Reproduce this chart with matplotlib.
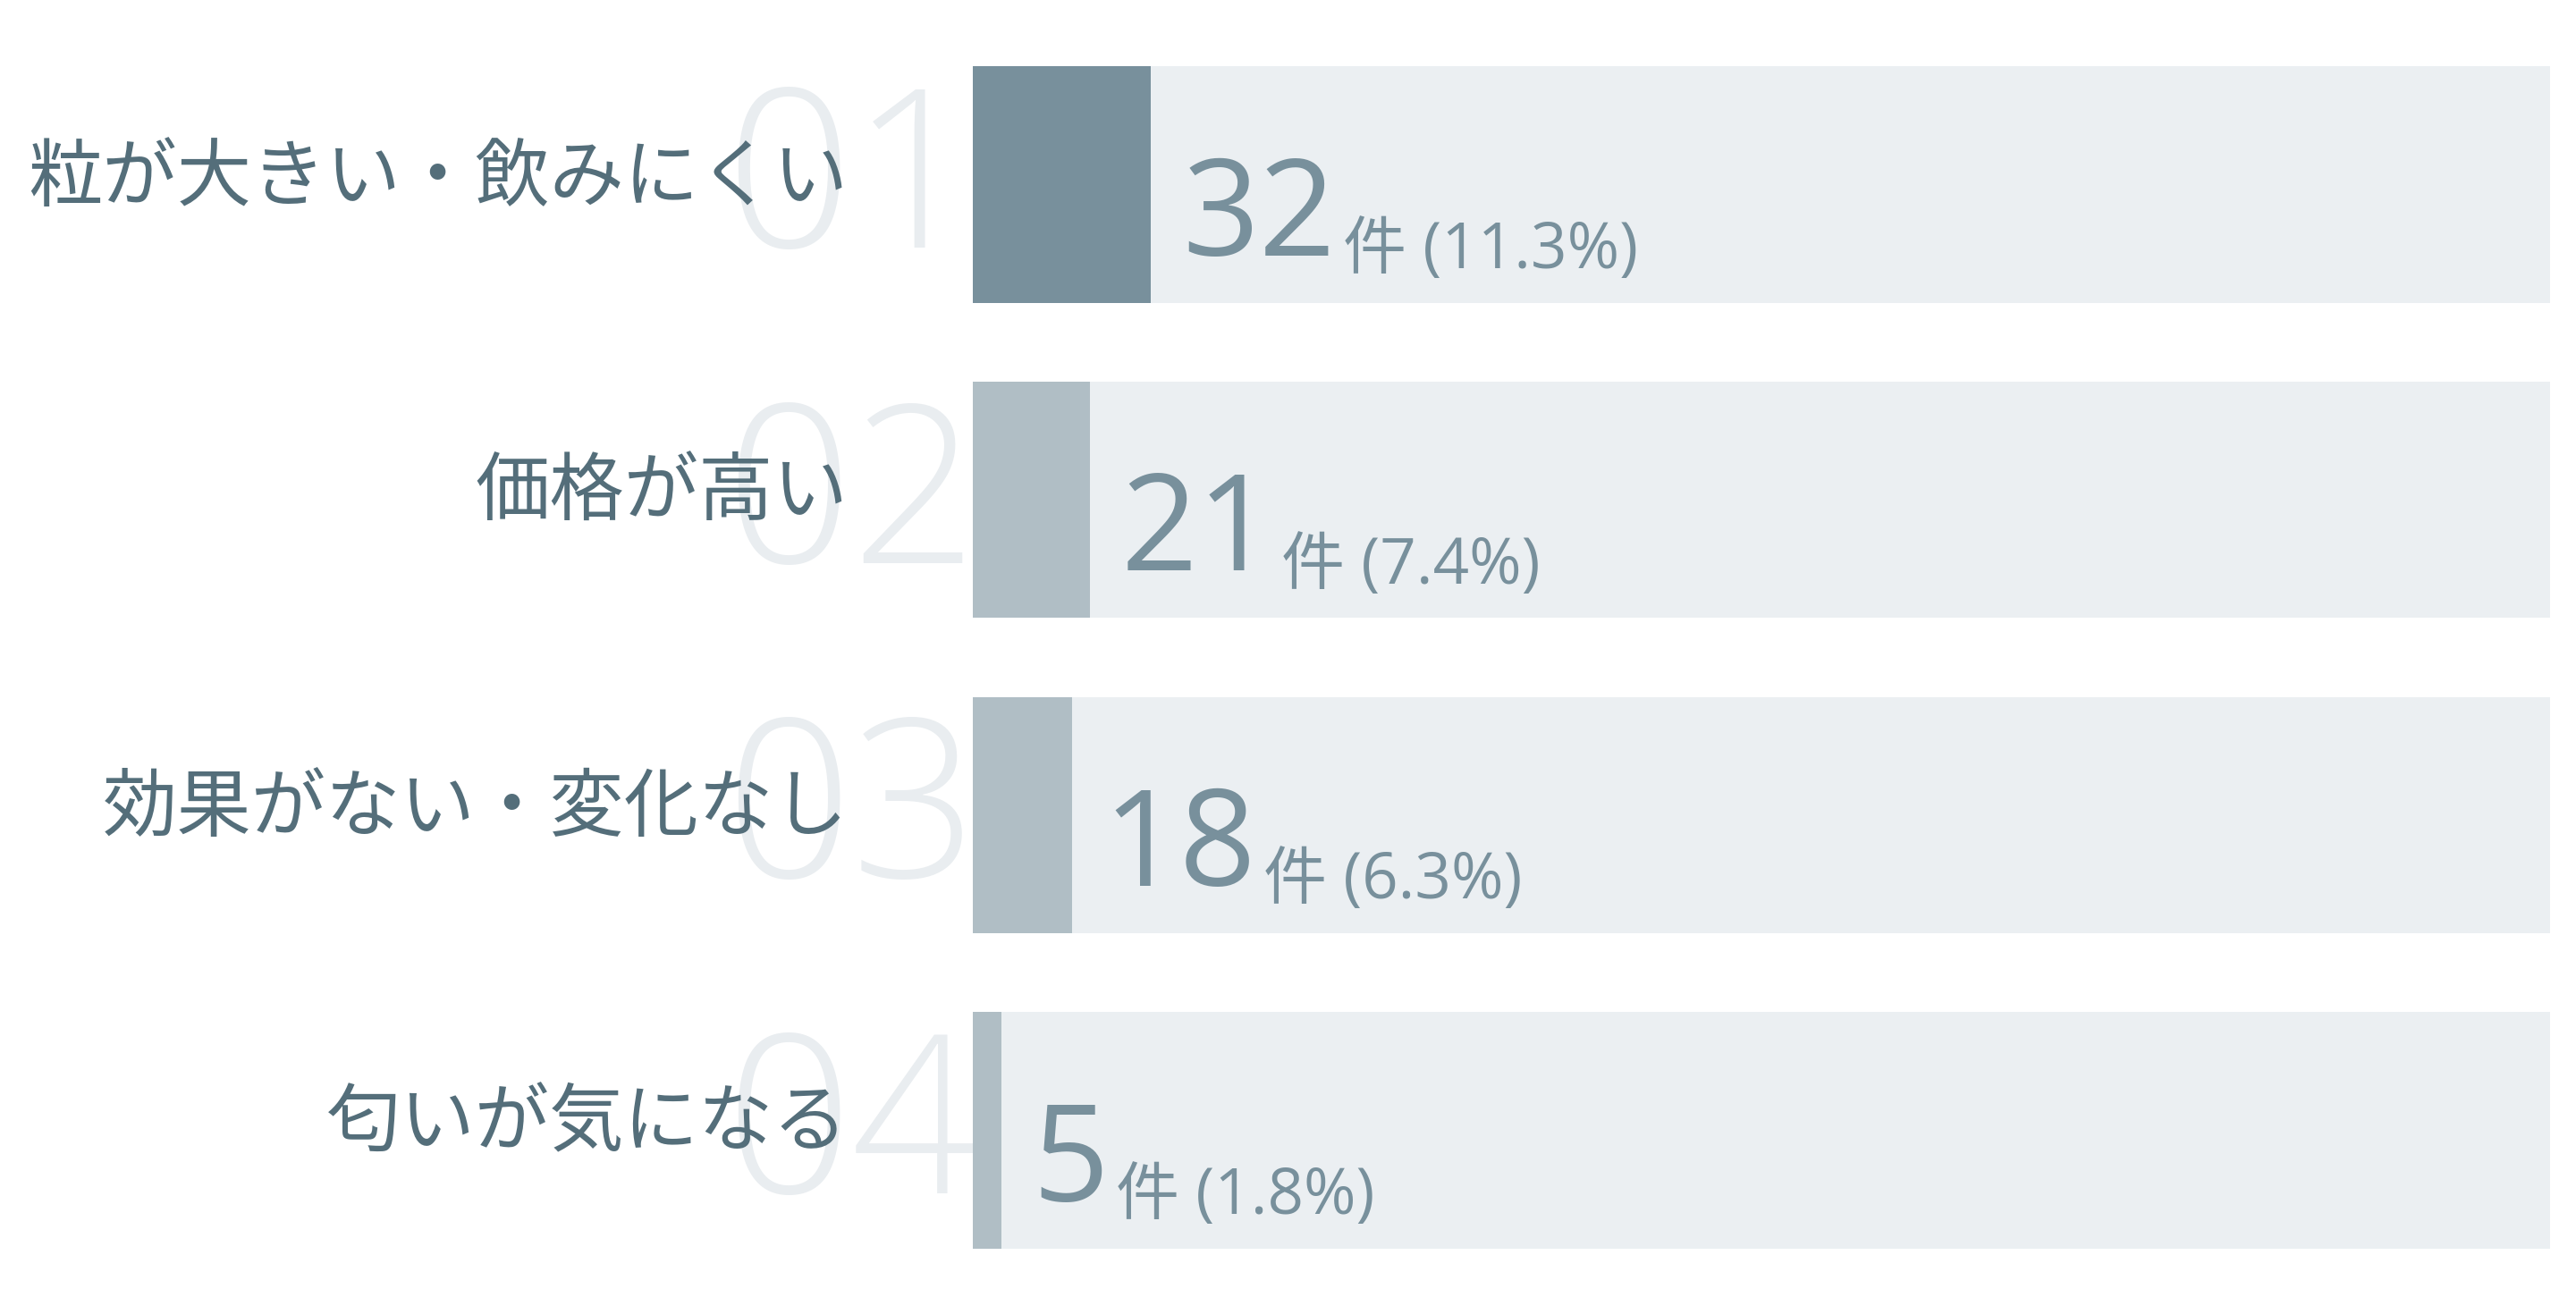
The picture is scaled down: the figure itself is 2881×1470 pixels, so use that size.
import matplotlib
matplotlib.use("Agg")
import matplotlib.pyplot as plt

# data
labels = ["粒が大きい・飲みにくい", "価格が高い", "効果がない・変化なし", "匂いが気になる"]
ranks = ["01", "02", "03", "04"]
counts = [32, 21, 18, 5]
shares = [11.3, 7.4, 6.3, 1.8]

TRACK = "#EBEFF2"
BAR_TOP = "#78909C"
BAR_REST = "#B0BEC5"
LABEL_C = "#546E7A"
VALUE_C = "#78909C"
RANK_C = "#E9EDF0"

JP = ["Noto Sans CJK JP", "DejaVu Sans"]
NUM = ["Open Sans", "Noto Sans CJK JP", "DejaVu Sans"]

W, H = 2881, 1470
fig = plt.figure(figsize=(W / 100, H / 100), dpi=100)
ax = fig.add_axes([1088 / W, 29 / H, 1764 / W, 1411 / H])
ax.set_xlim(0, 100)
ax.set_ylim(len(labels) - 0.5, -0.5)
ax.axis("off")

ys = list(range(len(labels)))
ax.barh(ys, [100] * len(ys), height=0.75, color=TRACK, linewidth=0, zorder=1)
colors = [BAR_TOP] + [BAR_REST] * (len(ys) - 1)
ax.barh(ys, shares, height=0.75, color=colors, linewidth=0, zorder=2)

big = []
for y, lab, rk, n, s in zip(ys, labels, ranks, counts, shares):
    # faint rank number sitting behind the label
    ax.text(0.3, y + 0.2, rk, ha="right", va="baseline", fontsize=178,
            family=NUM, fontweight="light", color=RANK_C, zorder=1, clip_on=False)
    ax.text(-7.9, y - 0.02, lab, ha="right", va="center", fontsize=60,
            family=JP, color=LABEL_C, zorder=3, clip_on=False)
    t = ax.annotate(str(n), xy=(s, y + 0.225), xytext=(25, 0),
                    textcoords="offset points", ha="left", va="baseline",
                    fontsize=108, family=NUM, color=VALUE_C, zorder=4)
    big.append(t)

fig.canvas.draw()
renderer = fig.canvas.get_renderer()
inv = ax.transData.inverted()
for y, t, s in zip(ys, big, shares):
    bb = t.get_window_extent(renderer)
    x_end = inv.transform((bb.x1 + 8, 0))[0]
    ax.text(x_end, y + 0.265, f"件 ({s}%)", ha="left", va="baseline",
            fontsize=51, family=NUM, color=VALUE_C, zorder=4)

fig.savefig("out.png", dpi=100)
